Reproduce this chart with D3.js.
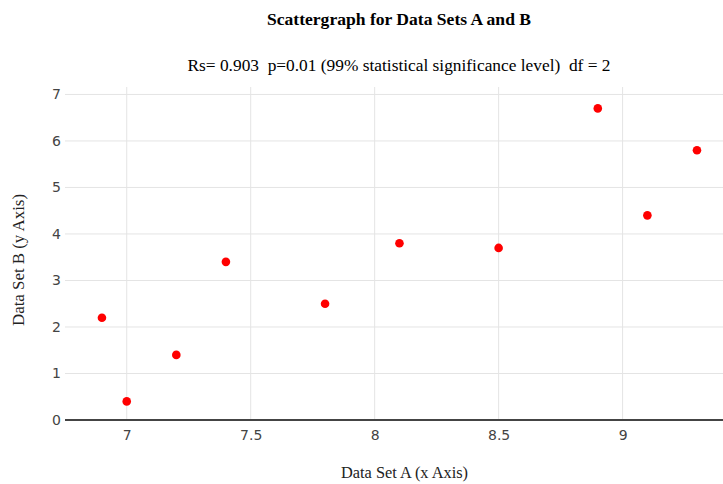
<!DOCTYPE html>
<html><head><meta charset="utf-8">
<script src="https://cdn.jsdelivr.net/npm/d3@7"></script>
<style>body{margin:0;background:#fff}</style>
</head><body>
<svg id="c" width="723" height="484"></svg>
<script>
const xValues = [6.9, 7.0, 7.2, 7.4, 7.8, 8.1, 8.5, 8.9, 9.1, 9.3];
const yValues = [2.2, 0.4, 1.4, 3.4, 2.5, 3.8, 3.7, 6.7, 4.4, 5.8];
const xTicks = [7, 7.5, 8, 8.5, 9];
const yTicks = [0, 1, 2, 3, 4, 5, 6, 7];
const title = "Scattergraph for Data Sets A and B";
const subtitle = "Rs= 0.903  p=0.01 (99% statistical significance level)  df = 2";
const xLabel = "Data Set A (x Axis)";
const yLabel = "Data Set B (y Axis)";

const svg = d3.select("#c");
const L = 65, R = 723, T = 87, B = 420;
const x = d3.scaleLinear().domain([6.751, 9.405]).range([L, R]);
const y = d3.scaleLinear().domain([0, 7.16]).range([B, T]);

// grid
svg.append("g").selectAll("line").data(xTicks).join("line")
  .attr("x1", d => x(d)).attr("x2", d => x(d)).attr("y1", T).attr("y2", B)
  .attr("stroke", "#e4e4e4").attr("stroke-width", 1);
svg.append("g").selectAll("line").data(yTicks.filter(d => d !== 0)).join("line")
  .attr("x1", L).attr("x2", R).attr("y1", d => y(d)).attr("y2", d => y(d))
  .attr("stroke", "#e4e4e4").attr("stroke-width", 1);
// zero line
svg.append("line").attr("x1", L).attr("x2", R).attr("y1", y(0)).attr("y2", y(0))
  .attr("stroke", "#444").attr("stroke-width", 2);

const tickFont = "'DejaVu Sans', Verdana, sans-serif";
const xAxis = d3.axisBottom(x).tickValues(xTicks).tickSize(0).tickPadding(10).tickFormat(d3.format("~g"));
const gx = svg.append("g").attr("transform", `translate(0,${B})`).call(xAxis);
gx.select(".domain").remove();
gx.selectAll("text").attr("font-family", tickFont).attr("font-size", 14).attr("fill", "#444");

const yAxis = d3.axisLeft(y).tickValues(yTicks).tickSize(0).tickPadding(4).tickFormat(d3.format("~g"));
const gy = svg.append("g").attr("transform", `translate(${L},0)`).call(yAxis);
gy.select(".domain").remove();
gy.selectAll("text").attr("font-family", tickFont).attr("font-size", 14).attr("fill", "#444");

// points
svg.append("g").selectAll("circle").data(xValues.map((v, i) => [v, yValues[i]])).join("circle")
  .attr("cx", d => x(d[0])).attr("cy", d => y(d[1])).attr("r", 4.3).attr("fill", "#ff0000");

const serif = "'Liberation Serif', 'Times New Roman', serif";
svg.append("text").attr("x", 399).attr("y", 25).attr("text-anchor", "middle")
  .attr("font-family", serif).attr("font-weight", "bold").attr("font-size", 17.6).attr("fill", "#000")
  .attr("textLength", 264).attr("lengthAdjust", "spacingAndGlyphs").text(title);
svg.append("text").attr("x", 399).attr("y", 71).attr("text-anchor", "middle")
  .attr("font-family", serif).attr("font-size", 17.4).attr("fill", "#000").style("white-space", "pre")
  .attr("textLength", 423).attr("lengthAdjust", "spacingAndGlyphs").text(subtitle);
svg.append("text").attr("x", 404.5).attr("y", 478).attr("text-anchor", "middle")
  .attr("font-family", serif).attr("font-size", 16).attr("fill", "#222")
  .attr("textLength", 127).attr("lengthAdjust", "spacingAndGlyphs").text(xLabel);
svg.append("text").attr("transform", "translate(24,260) rotate(-90)").attr("text-anchor", "middle")
  .attr("font-family", serif).attr("font-size", 16).attr("fill", "#222")
  .attr("textLength", 132).attr("lengthAdjust", "spacingAndGlyphs").text(yLabel);
</script>
</body></html>
